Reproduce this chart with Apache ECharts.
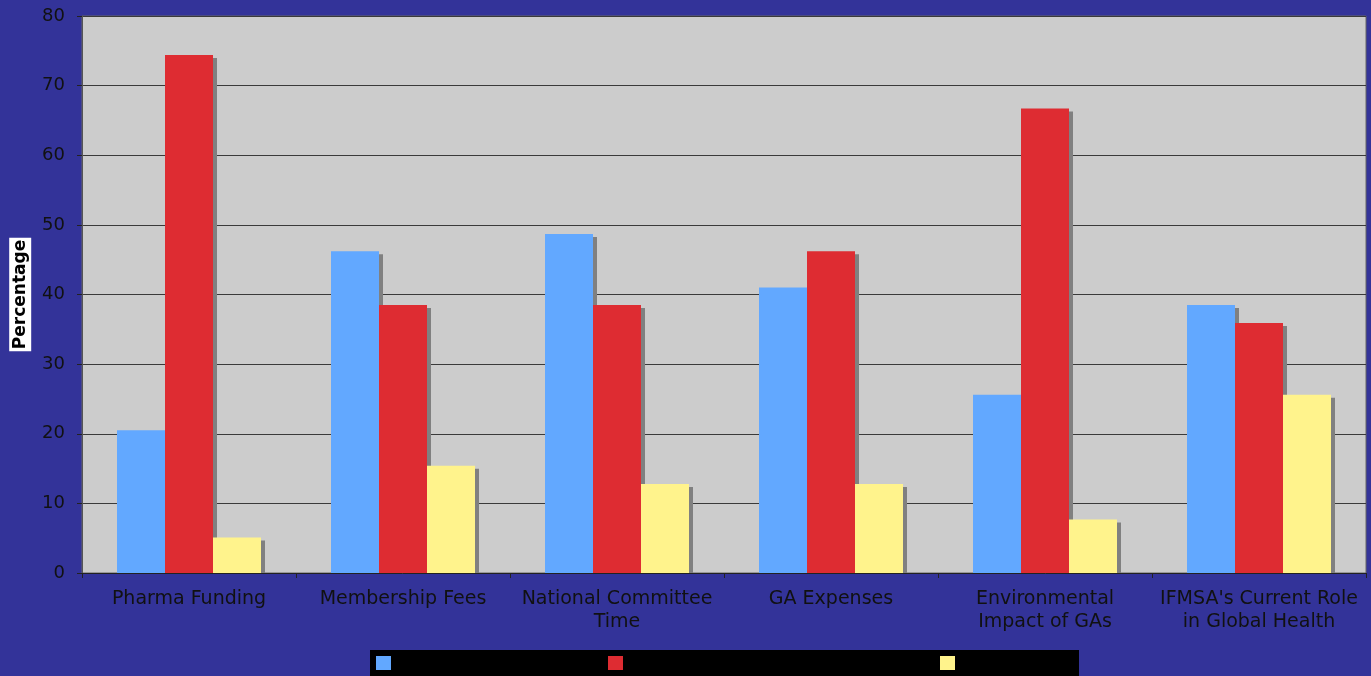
<!DOCTYPE html>
<html>
<head>
<meta charset="utf-8">
<script src="https://cdn.jsdelivr.net/npm/echarts@6/dist/echarts.min.js"></script>
<style>
html,body{margin:0;padding:0;background:#333399;}
#c{width:1371px;height:676px;}
</style>
</head>
<body>
<div id="c"></div>
<script>
const categories = ["Pharma Funding", "Membership Fees", "National Committee\nTime", "GA Expenses", "Environmental\nImpact of GAs", "IFMSA's Current Role\nin Global Health"];
const seriesNames = ["Yes", "No", "Undecided"];
const blueValues = [20.5, 46.2, 48.7, 41.0, 25.6, 38.5];
const redValues = [74.4, 38.5, 38.5, 46.2, 66.7, 35.9];
const yellowValues = [5.1, 15.4, 12.8, 12.8, 7.7, 25.6];
const yTicks = [0, 10, 20, 30, 40, 50, 60, 70, 80];

const colors = ["#62A8FF", "#DE2C32", "#FFF38C"];
const chart = echarts.init(document.getElementById('c'));
const shadow = {shadowColor: '#808080', shadowBlur: 0, shadowOffsetX: 4, shadowOffsetY: 3};
const dataSets = [blueValues, redValues, yellowValues];
const legendLefts = [376, 608, 940];

chart.setOption({
  backgroundColor: '#333399',
  animation: false,
  graphic: [{
    type: 'rect', left: 370, top: 650, z: 0,
    shape: {width: 709, height: 30},
    style: {fill: '#000000'}
  }, {
    type: 'rect', left: 82, top: 574, z: 3,
    shape: {width: 1290, height: 5},
    style: {fill: '#333399'}
  }],
  legend: seriesNames.map((n, i) => ({
    data: [n], left: legendLefts[i], top: 656, padding: 0,
    itemWidth: 15, itemHeight: 14, icon: 'rect',
    textStyle: {color: '#000000', fontSize: 12}, z: 5
  })),
  grid: {
    left: 82, right: 5, top: 16, bottom: 103, outerBoundsMode: 'none', containLabel: false,
    show: true, backgroundColor: '#CCCCCC', borderColor: '#666666', borderWidth: 1
  },
  xAxis: {
    type: 'category',
    data: categories, z: 5,
    axisLine: {lineStyle: {color: '#222222', width: 1}},
    axisTick: {show: true, length: 5, lineStyle: {color: '#222222'}},
    axisLabel: {color: '#111111', fontFamily: 'DejaVu Sans', fontSize: 19, lineHeight: 23, margin: 15, interval: 0}
  },
  yAxis: {
    type: 'value', min: 0, max: 80, interval: 10,
    name: 'Percentage', nameLocation: 'middle', nameGap: 50, nameRotate: 90,
    nameTextStyle: {color: '#000000', fontFamily: 'DejaVu Sans', fontWeight: 'bold', fontSize: 17, backgroundColor: '#ffffff', padding: [3, 2, 2, 2]},
    axisLine: {show: true, lineStyle: {color: '#555555', width: 1}},
    axisTick: {show: true, length: 5, lineStyle: {color: '#222222'}},
    axisLabel: {color: '#111111', fontFamily: 'DejaVu Sans', fontSize: 18, margin: 17,
      formatter: v => yTicks.includes(v) ? String(v) : ''},
    splitLine: {lineStyle: {color: '#3a3a3a', width: 1}}
  },
  series: seriesNames.map((n, i) => ({
    name: n, type: 'bar', data: dataSets[i],
    barWidth: 48, barGap: '0%',
    itemStyle: Object.assign({color: colors[i]}, shadow)
  }))
});
</script>
</body>
</html>
